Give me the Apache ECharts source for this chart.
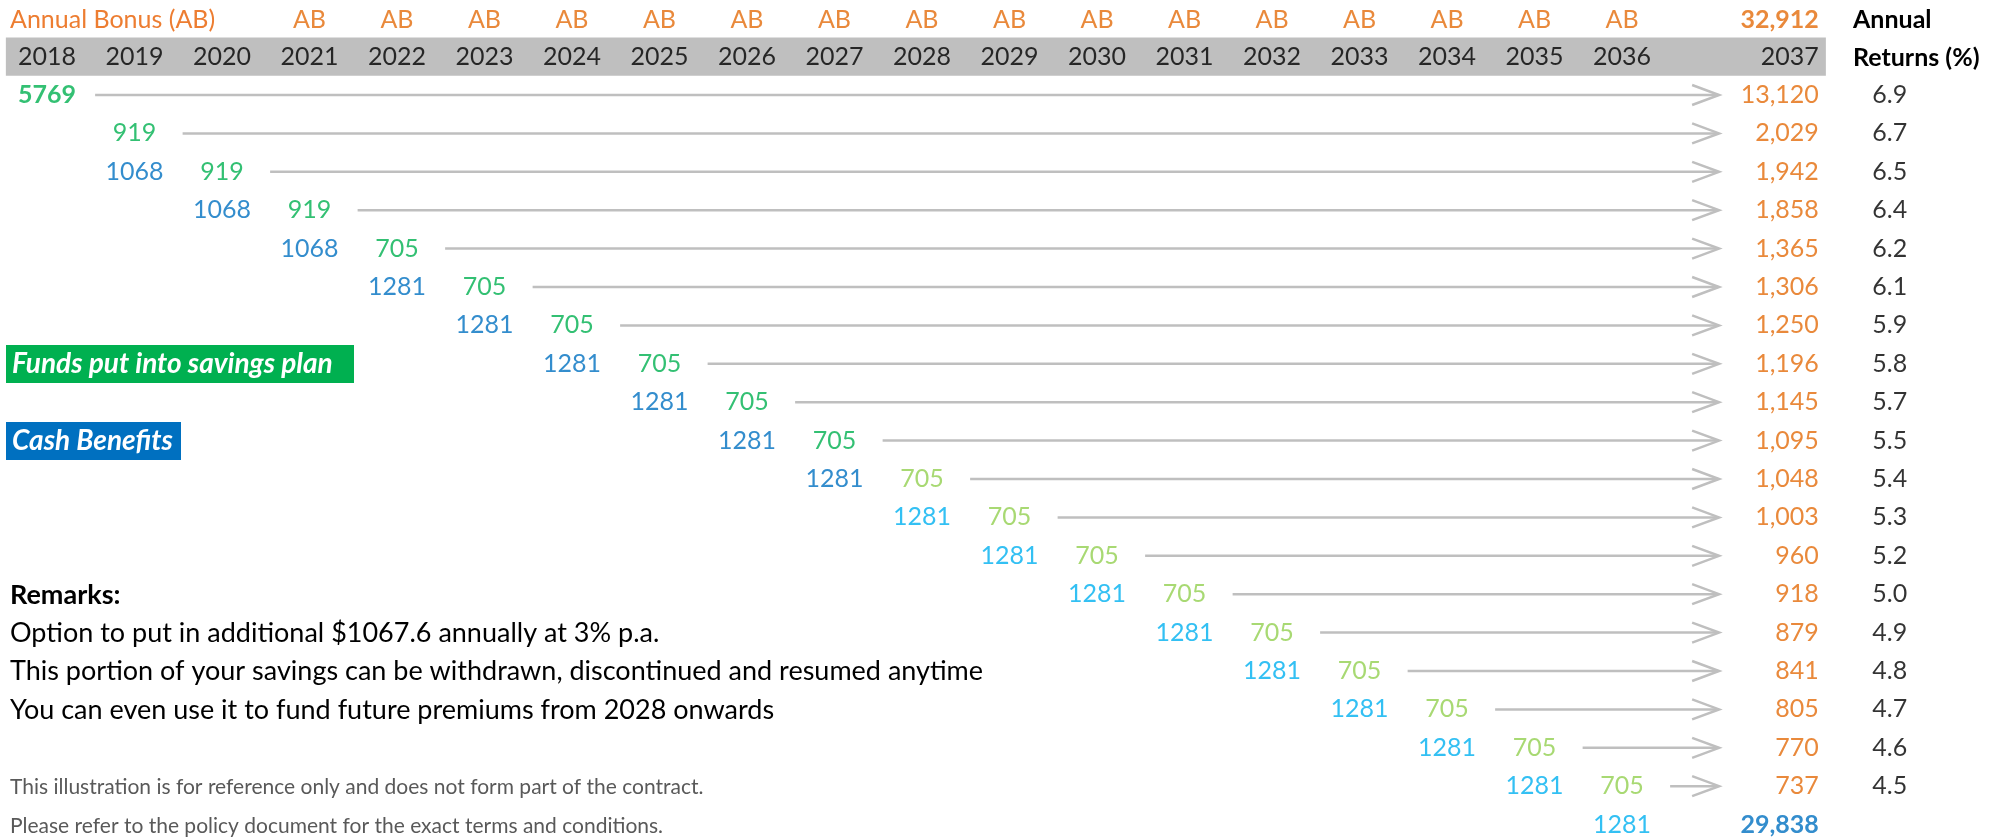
<!DOCTYPE html>
<html>
<head>
<meta charset="utf-8">
<script src="https://cdn.jsdelivr.net/npm/echarts@6/dist/echarts.min.js"></script>
<style>
  html, body { margin: 0; padding: 0; background: #fff; }
  #chart { width: 2014px; height: 839px; }
</style>
</head>
<body>
<div id="chart"></div>
<script>
// ---- data ----
const years = ['2018', '2019', '2020', '2021', '2022', '2023', '2024', '2025', '2026', '2027',
  '2028', '2029', '2030', '2031', '2032', '2033', '2034', '2035', '2036', '2037']
const bonusYears = ['2021', '2022', '2023', '2024', '2025', '2026', '2027', '2028',
  '2029', '2030', '2031', '2032', '2033', '2034', '2035', '2036']
// premium put into the savings plan, one per row, paid 2018..2036
const premiums = [5769, 919, 919, 919, 705, 705, 705, 705, 705, 705,
  705, 705, 705, 705, 705, 705, 705, 705, 705]
// cash benefit paid out, 2019..2036
const cashBenefits = [1068, 1068, 1068, 1281, 1281, 1281, 1281, 1281, 1281,
  1281, 1281, 1281, 1281, 1281, 1281, 1281, 1281, 1281]
// value in 2037 of each row's premium
const maturityValues = [13120, 2029, 1942, 1858, 1365, 1306, 1250, 1196, 1145, 1095,
  1048, 1003, 960, 918, 879, 841, 805, 770, 737]
const annualReturns = [6.9, 6.7, 6.5, 6.4, 6.2, 6.1, 5.9, 5.8, 5.7, 5.5,
  5.4, 5.3, 5.2, 5.0, 4.9, 4.8, 4.7, 4.6, 4.5]
const bonusTotal = 32912
const cashTotal = 29838
const switchYear = '2028' // lighter colours from here on

const remarks = [
  'Option to put in additional $1067.6 annually at 3% p.a.',
  'This portion of your savings can be withdrawn, discontinued and resumed anytime',
  'You can even use it to fund future premiums from 2028 onwards'
]
const disclaimers = [
  'This illustration is for reference only and does not form part of the contract.',
  'Please refer to the policy document for the exact terms and conditions.'
]

// ---- layout (axis units: 1 column / 1 row) ----
const X_MIN = -0.537
const X_MAX = 22.48
const Y_MIN = -2.474
const Y_MAX = 19.375
const BAR_LEFT = -0.47
const BAR_RIGHT = 20.33
const ARROW_GAP = 0.55
const ARROW_END = 19.11
const TOTAL_X = 20.25
const RETURN_X = 20.86
const AB_ROW = -1.95

const FONT = 'Lato'
const FS = 25
const BODY_FS = 27
const orange = '#E46C0A'
const green = '#00B050'
const lightGreen = '#92D050'
const blue = '#0070C0'
const lightBlue = '#00B0F0'
const grey = '#BFBFBF'

const fmt = v => v.toLocaleString('en-US')
const switchIdx = years.indexOf(switchYear)

function textSeries(name, data, extra) {
  return {
    name,
    type: 'scatter',
    symbolSize: 0,
    silent: true,
    data,
    label: Object.assign({
      show: true,
      position: 'inside',
      verticalAlign: 'middle',
      fontFamily: FONT,
      fontSize: FS,
      color: '#000',
      formatter: p => p.value[2]
    }, extra || {})
  }
}

function note(text, x, y, font, fill) {
  return { type: 'text', x, y, style: { text, font, fill, verticalAlign: 'middle' } }
}

const chart = echarts.init(document.getElementById('chart'))

const option = {
  animation: false,
  backgroundColor: '#fff',
  grid: { left: 0, right: 0, top: 0, bottom: 0 },
  xAxis: { type: 'value', min: X_MIN, max: X_MAX, show: false },
  yAxis: { type: 'value', min: Y_MIN, max: Y_MAX, inverse: true, show: false },
  series: [
    {
      name: 'header',
      type: 'custom',
      silent: true,
      data: [[BAR_LEFT, -1.5, BAR_RIGHT, -0.5]],
      renderItem(params, api) {
        const a = api.coord([api.value(0), api.value(1)])
        const b = api.coord([api.value(2), api.value(3)])
        return { type: 'rect', shape: { x: a[0], y: a[1], width: b[0] - a[0], height: b[1] - a[1] }, style: { fill: grey } }
      },
      z: 1
    },
    {
      name: 'arrows',
      type: 'custom',
      silent: true,
      data: premiums.map((v, i) => [i + ARROW_GAP, ARROW_END, i]),
      renderItem(params, api) {
        const s = api.coord([api.value(0), api.value(2)])
        const e = api.coord([api.value(1), api.value(2)])
        return {
          type: 'group',
          children: [
            { type: 'line', shape: { x1: s[0], y1: s[1], x2: e[0] - 1, y2: e[1] }, style: { stroke: grey, lineWidth: 2.5 } },
            { type: 'polyline', shape: { points: [[e[0] - 27, e[1] - 10], [e[0], e[1]], [e[0] - 27, e[1] + 10]] }, style: { stroke: grey, lineWidth: 2.5, fill: null } }
          ]
        }
      },
      z: 2
    },
    textSeries('years', years.map((y, i) => i < years.length - 1
      ? { value: [i, -1, y] }
      : { value: [TOTAL_X, -1, y], label: { align: 'right' } })),
    textSeries('bonus', bonusYears.map(y => [years.indexOf(y), AB_ROW, 'AB']), { color: orange }),
    textSeries('bonusTotal', [[TOTAL_X, AB_ROW, fmt(bonusTotal)]], { color: orange, fontWeight: 'bold', align: 'right' }),
    textSeries('premiums', premiums.map((v, i) => ({
      value: [i, i, v],
      label: {
        color: i >= switchIdx ? lightGreen : green,
        fontWeight: i === 0 ? 'bold' : 'normal'
      }
    }))),
    textSeries('cash', cashBenefits.map((v, k) => ({
      value: [k + 1, k + 2, v],
      label: { color: k + 1 >= switchIdx ? lightBlue : blue }
    }))),
    textSeries('maturity', maturityValues.map((v, i) => [TOTAL_X, i, fmt(v)]), { color: orange, align: 'right' }),
    textSeries('cashTotal', [[TOTAL_X, premiums.length, fmt(cashTotal)]], { color: blue, fontWeight: 'bold', align: 'right' }),
    textSeries('returns', annualReturns.map((v, i) => [RETURN_X, i, v.toFixed(1)]), { align: 'left' })
  ],
  graphic: [
    note('Annual Bonus (AB)', 10, 20, `${FS}px ${FONT}`, '#ED7D31'),
    note('Annual', 1853, 20, `bold ${FS}px ${FONT}`, '#000'),
    note('Returns (%)', 1853, 58, `bold ${FS}px ${FONT}`, '#000'),
    {
      type: 'group', left: 6, top: 345,
      children: [
        { type: 'rect', shape: { x: 0, y: 0, width: 348, height: 38 }, style: { fill: green } },
        note('Funds put into savings plan', 6, 19, `italic bold 28px ${FONT}`, '#fff')
      ]
    },
    {
      type: 'group', left: 6, top: 422,
      children: [
        { type: 'rect', shape: { x: 0, y: 0, width: 175, height: 38 }, style: { fill: blue } },
        note('Cash Benefits', 6, 19, `italic bold 28px ${FONT}`, '#fff')
      ]
    },
    note('Remarks:', 10, 595, `bold ${BODY_FS}px ${FONT}`, '#000'),
    note(remarks[0], 10, 633, `${BODY_FS}px ${FONT}`, '#000'),
    note(remarks[1], 10, 671, `${BODY_FS}px ${FONT}`, '#000'),
    note(remarks[2], 10, 710, `${BODY_FS}px ${FONT}`, '#000'),
    note(disclaimers[0], 10, 787, `21px ${FONT}`, '#595959'),
    note(disclaimers[1], 10, 826, `21px ${FONT}`, '#595959')
  ]
}

chart.setOption(option)
window.addEventListener('resize', () => chart.resize())
</script>
</body>
</html>
